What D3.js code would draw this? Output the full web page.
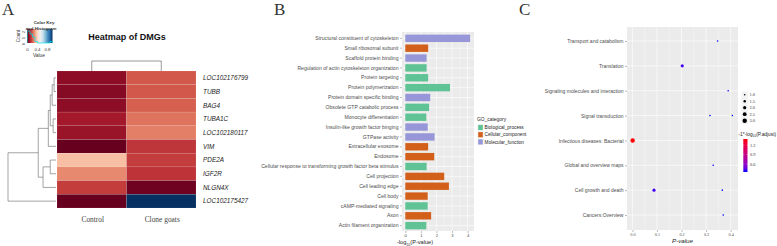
<!DOCTYPE html>
<html>
<head>
<meta charset="utf-8">
<script src="https://cdn.jsdelivr.net/npm/d3@7"></script>
<style>
  body { margin: 0; background: #fff; }
  svg { display: block; }
  .narrow { font-family: "Liberation Sans Narrow", "Liberation Sans", Arial, sans-serif; }
</style>
</head>
<body>
<div id="chart"></div>
<script>
// ---------- panel A : heatmap of DMGs ----------
const genes = ["LOC102176799", "TUBB", "BAG4", "TUBA1C", "LOC102180117", "VIM", "PDE2A", "IGF2R", "NLGN4X", "LOC102175427"];
const groups = ["Control", "Clone goats"];
const controlValues = [0.05, 0.04, 0.05, 0.085, 0.07, 0.0, 0.35, 0.26, 0.15, 0.0];
const cloneValues   = [0.19, 0.19, 0.20, 0.23, 0.245, 0.14, 0.15, 0.135, 0.01, 1.0];
// hclust style merges (negative = leaf number)
const rowMerge = [[-1, -2], [1, -3], [-4, -5], [2, 3], [4, -6], [-7, -8], [6, -9], [5, 7], [8, -10]];
const rowHeights = [0.04, 0.08, 0.06, 0.12, 0.16, 0.12, 0.27, 0.37, 1.0];
const colMerge = [[-1, -2]];
const colHeights = [1.0];
const keyTicks = [0, 0.4, 0.8];

// ---------- panel B : GO enrichment ----------
const goTerms = [
  "Structural constituent of cytoskeleton", "Small ribosomal subunit", "Scaffold protein binding",
  "Regulation of actin cytoskeleton organization", "Protein targeting", "Protein polymerization",
  "Protein domain specific binding", "Obsolete GTP catabolic process", "Monocyte differentiation",
  "Insulin-like growth factor binging", "GTPase activity", "Extracellular exosome", "Endosome",
  "Cellular response to transforming growth factor beta stimulus", "Cell projection", "Cell leading edge",
  "Cell body", "cAMP-mediated signaling", "Axon", "Actin filament organization"
];
const goValues = [4.16, 1.47, 1.37, 1.37, 1.47, 2.87, 1.6, 1.53, 1.35, 1.44, 1.88, 1.47, 1.86, 1.37, 2.5, 2.8, 1.44, 1.44, 1.66, 1.35];
const goCategory = [
  "Molecular_function", "Cellular_component", "Molecular_function", "Biological_process", "Biological_process",
  "Biological_process", "Molecular_function", "Biological_process", "Biological_process", "Molecular_function",
  "Molecular_function", "Cellular_component", "Cellular_component", "Biological_process", "Cellular_component",
  "Cellular_component", "Cellular_component", "Biological_process", "Cellular_component", "Biological_process"
];
const goCategories = ["Biological_process", "Cellular_component", "Molecular_function"];
const goTicks = [0, 1, 2, 3, 4];

// ---------- panel C : KEGG dot plot ----------
const keggTerms = [
  "Transport and catabolism", "Translation", "Signaling molecules and interaction", "Signal transduction",
  "Infectious diseases: Bacterial", "Global and overview maps", "Cell growth and death", "Cancers:Overview"
];
const keggPointTerm = [
  "Transport and catabolism", "Translation", "Signaling molecules and interaction", "Signal transduction",
  "Signal transduction", "Infectious diseases: Bacterial", "Global and overview maps", "Cell growth and death",
  "Cell growth and death", "Cancers:Overview"
];
const keggPValue = [0.347, 0.203, 0.39, 0.316, 0.407, 0.001, 0.329, 0.088, 0.366, 0.37];
const keggCount = [1, 2, 1, 1, 1, 3, 1, 2, 1, 1];
const keggLogPadj = [0.35, 0.4, 0.35, 0.35, 0.35, 1.39, 0.35, 0.4, 0.35, 0.35];
const keggTicks = [0, 0.1, 0.2, 0.3, 0.4];
const sizeBreaks = [1.0, 1.5, 2.0, 2.5, 3.0];
const colorBreaks = [1.2, 0.9, 0.6];

const W = 777, H = 246;
const svg = d3.select("#chart").append("svg")
  .attr("width", W).attr("height", H)
  .attr("viewBox", `0 0 ${W} ${H}`);
svg.append("rect").attr("width", W).attr("height", H).attr("fill", "#fff");
const defs = svg.append("defs");

// panel letters
[["A", 2], ["B", 274], ["C", 519]].forEach(([t, x]) => {
  svg.append("text").attr("x", x).attr("y", 15)
    .attr("font-family", "Liberation Serif, serif").attr("font-size", 17)
    .attr("fill", "#333").text(t);
});

/* ================= panel A ================= */
const heat = svg.append("g");
const hx = d3.scaleBand().domain(groups).range([57, 196]);
const hy = d3.scaleBand().domain(genes).range([71, 208]);
const heatColor = v => d3.interpolateRdBu(Math.min(1, v));

const cells = [];
genes.forEach((g, i) => {
  cells.push({gene: g, group: groups[0], v: controlValues[i]});
  cells.push({gene: g, group: groups[1], v: cloneValues[i]});
});
heat.selectAll("rect.cell").data(cells).join("rect")
  .attr("class", "cell")
  .attr("x", d => hx(d.group)).attr("y", d => hy(d.gene))
  .attr("width", hx.bandwidth()).attr("height", hy.bandwidth())
  .attr("fill", d => heatColor(d.v))
  .attr("stroke", "#fff").attr("stroke-opacity", 0.2).attr("stroke-width", 0.5);

heat.selectAll("text.gene").data(genes).join("text")
  .attr("class", "gene")
  .attr("x", 203).attr("y", d => hy(d) + hy.bandwidth() / 2 + 2.3)
  .attr("font-family", "Liberation Sans, Arial, sans-serif").attr("font-style", "italic")
  .attr("font-size", 6.4).attr("fill", "#222").text(d => d);

heat.selectAll("text.grp").data(groups).join("text")
  .attr("class", "grp")
  .attr("x", d => hx(d) + hx.bandwidth() / 2 + 1).attr("y", 222)
  .attr("text-anchor", "middle")
  .attr("font-family", "Liberation Serif, serif").attr("font-size", 7.4)
  .attr("fill", "#444").text(d => d);

heat.append("text").attr("x", 127).attr("y", 40).attr("text-anchor", "middle")
  .attr("font-family", "Liberation Sans, Arial, sans-serif").attr("font-weight", "bold")
  .attr("font-size", 9).attr("fill", "#111").text("Heatmap of DMGs");

// dendrogram segments from an hclust-like merge table
function treeSegments(merge, heights, leafPos) {
  const nodes = [];
  const segs = [];
  const at = i => i < 0 ? {p: leafPos(-i - 1), h: 0} : nodes[i - 1];
  merge.forEach((m, k) => {
    const a = at(m[0]), b = at(m[1]);
    const node = {p: (a.p + b.p) / 2, h: heights[k]};
    segs.push([[a.p, a.h], [a.p, node.h], [b.p, node.h], [b.p, b.h]]);
    nodes.push(node);
  });
  return segs;
}

const rowH = d3.scaleLinear().domain([0, d3.max(rowHeights)]).range([56, 8]);
const rowSegs = treeSegments(rowMerge, rowHeights, i => hy(genes[i]) + hy.bandwidth() / 2);
heat.selectAll("path.rowtree").data(rowSegs).join("path")
  .attr("class", "rowtree")
  .attr("d", d3.line().x(d => rowH(d[1])).y(d => d[0]))
  .attr("fill", "none").attr("stroke", "#666").attr("stroke-width", 0.6);

const colH = d3.scaleLinear().domain([0, d3.max(colHeights)]).range([71, 61]);
const colSegs = treeSegments(colMerge, colHeights, i => hx(groups[i]) + hx.bandwidth() / 2);
heat.selectAll("path.coltree").data(colSegs).join("path")
  .attr("class", "coltree")
  .attr("d", d3.line().x(d => d[0]).y(d => colH(d[1])))
  .attr("fill", "none").attr("stroke", "#555").attr("stroke-width", 0.6);

// colour key with histogram
const key = svg.append("g");
const kx = d3.scaleLinear().domain([0, 1]).range([27.5, 52.5]);
const grad = defs.append("linearGradient").attr("id", "rdbu");
d3.range(0, 1.01, 0.1).forEach(t => {
  grad.append("stop").attr("offset", t).attr("stop-color", heatColor(t));
});
key.append("rect").attr("x", kx(0)).attr("y", 29).attr("width", kx(1) - kx(0)).attr("height", 14)
  .attr("fill", "url(#rdbu)");
const allVals = controlValues.concat(cloneValues);
const bins = d3.bin().domain([0, 1]).thresholds(d3.range(0.1, 1, 0.1))(allVals);
const ky = d3.scaleLinear().domain([0, d3.max(bins, b => b.length)]).range([43, 31]);
let hist = `M${kx(0)},${ky(0)}`;
bins.forEach(b => { hist += `V${ky(b.length)}H${kx(b.x1)}`; });
hist += `V${ky(0)}`;
key.append("path").attr("d", hist).attr("fill", "none").attr("stroke", "#00e5ee").attr("stroke-width", 0.7);
key.append("line").attr("x1", kx(0)).attr("x2", kx(0)).attr("y1", 29).attr("y2", 43).attr("stroke", "#333").attr("stroke-width", 0.5);
key.selectAll("text.kt").data(keyTicks).join("text").attr("class", "kt")
  .attr("x", d => kx(d)).attr("y", 51).attr("text-anchor", "middle")
  .attr("font-family", "Liberation Sans, Arial, sans-serif").attr("font-size", 4.4).attr("fill", "#333")
  .text(d => d === 0 ? "0" : d);
key.append("text").attr("x", 39).attr("y", 56.5).attr("text-anchor", "middle")
  .attr("font-family", "Liberation Sans, Arial, sans-serif").attr("font-size", 4.8).attr("fill", "#333").text("Value");
key.append("text").attr("x", 44).attr("y", 24).attr("text-anchor", "middle")
  .attr("font-family", "Liberation Sans, Arial, sans-serif").attr("font-weight", "bold")
  .attr("font-size", 4.4).attr("fill", "#333").text("Color Key");
key.append("text").attr("x", 41).attr("y", 30).attr("text-anchor", "middle")
  .attr("font-family", "Liberation Sans, Arial, sans-serif").attr("font-weight", "bold")
  .attr("font-size", 4.4).attr("fill", "#333").text("and Histogram");
key.append("text").attr("transform", "translate(20,36) rotate(-90)").attr("text-anchor", "middle")
  .attr("font-family", "Liberation Sans, Arial, sans-serif").attr("font-size", 4.6).attr("fill", "#333").text("Count");
key.selectAll("text.ct").data([0, 5, 10]).join("text").attr("class", "ct")
  .attr("transform", d => `translate(25,${ky(d * ky.domain()[1] / 10) + 1}) rotate(-90)`)
  .attr("text-anchor", "middle").attr("font-family", "Liberation Sans, Arial, sans-serif")
  .attr("font-size", 3.4).attr("fill", "#333").text((d, i) => i);

/* ================= panel B ================= */
const goColor = d3.scaleOrdinal().domain(goCategories).range(["#5fc395", "#d3601a", "#9696d8"]);
const bx = d3.scaleLinear().domain([-0.21, 4.41]).range([402, 474]);
const by = d3.scaleBand().domain(goTerms).range([33.4, 230.6]).paddingInner(0.25).paddingOuter(0.125);
const B = svg.append("g").attr("class", "narrow");
B.append("rect").attr("x", 402).attr("y", 32).attr("width", 72).attr("height", 199).attr("fill", "#ebebeb");
B.selectAll("line.minor").data(d3.range(0.5, 4.5, 1)).join("line").attr("class", "minor")
  .attr("x1", d => bx(d)).attr("x2", d => bx(d)).attr("y1", 32).attr("y2", 231)
  .attr("stroke", "#fff").attr("stroke-width", 0.3);
B.selectAll("line.vmaj").data(goTicks).join("line").attr("class", "vmaj")
  .attr("x1", d => bx(d)).attr("x2", d => bx(d)).attr("y1", 32).attr("y2", 231)
  .attr("stroke", "#fff").attr("stroke-width", 0.6);
B.selectAll("line.hmaj").data(goTerms).join("line").attr("class", "hmaj")
  .attr("x1", 402).attr("x2", 474).attr("y1", d => by(d) + by.bandwidth() / 2).attr("y2", d => by(d) + by.bandwidth() / 2)
  .attr("stroke", "#fff").attr("stroke-width", 0.6);
B.selectAll("rect.bar").data(goTerms).join("rect").attr("class", "bar")
  .attr("x", bx(0)).attr("y", d => by(d))
  .attr("width", (d, i) => bx(goValues[i]) - bx(0)).attr("height", by.bandwidth())
  .attr("fill", (d, i) => goColor(goCategory[i]));

const byAxis = B.append("g").attr("transform", "translate(402,0)")
  .call(d3.axisLeft(by).tickSize(2).tickPadding(1.5));
byAxis.select(".domain").remove();
byAxis.selectAll("line").attr("stroke", "#555").attr("stroke-width", 0.4);
byAxis.selectAll("text").attr("font-size", 5.1).attr("fill", "#4d4d4d").attr("font-family", null);

const bxAxis = B.append("g").attr("transform", "translate(0,231)")
  .call(d3.axisBottom(bx).tickValues(goTicks).tickSize(2).tickPadding(1).tickFormat(d3.format("d")));
bxAxis.select(".domain").remove();
bxAxis.selectAll("line").attr("stroke", "#555").attr("stroke-width", 0.4);
bxAxis.selectAll("text").attr("font-size", 4.2).attr("fill", "#4d4d4d").attr("font-family", null);

const bTitle = B.append("text").attr("x", 415).attr("y", 244.3).attr("text-anchor", "middle")
  .attr("font-size", 5.6).attr("fill", "#222");
bTitle.append("tspan").text("-log");
bTitle.append("tspan").attr("font-size", 3.6).attr("dy", 1.4).text("10");
bTitle.append("tspan").attr("dy", -1.4).text("(P-value)");

const bLeg = B.append("g").attr("transform", "translate(477,0)");
bLeg.append("text").attr("x", 0).attr("y", 121).attr("font-size", 4.9).attr("fill", "#222").text("GO_category");
goCategories.forEach((c, i) => {
  const y = 124.3 + i * 7.2;
  bLeg.append("rect").attr("x", 0.5).attr("y", y).attr("width", 6).attr("height", 6.4).attr("fill", "#f2f2f2");
  bLeg.append("rect").attr("x", 1.2).attr("y", y + 0.6).attr("width", 4.6).attr("height", 5.2).attr("fill", goColor(c));
  bLeg.append("text").attr("x", 7.6).attr("y", y + 4.9).attr("font-size", 4.7).attr("fill", "#222").text(c);
});

/* ================= panel C ================= */
const cx = d3.scaleLinear().domain([-0.022, 0.430]).range([627, 738]);
const cy = d3.scalePoint().domain(keggTerms).range([41, 215]);
const cSize = d3.scaleSqrt().domain([1, 3]).range([0.8, 2.2]);
const cColor = d3.scaleLinear().domain(d3.extent(keggLogPadj)).range(["#0000ff", "#ff0000"])
  .interpolate(d3.interpolateLab);
const C = svg.append("g").attr("class", "narrow");
C.append("rect").attr("x", 627).attr("y", 27).attr("width", 111).attr("height", 203).attr("fill", "#ebebeb");
C.selectAll("line.minor").data(d3.range(0.05, 0.45, 0.1)).join("line").attr("class", "minor")
  .attr("x1", d => cx(d)).attr("x2", d => cx(d)).attr("y1", 27).attr("y2", 230)
  .attr("stroke", "#fff").attr("stroke-width", 0.3);
C.selectAll("line.vmaj").data(keggTicks).join("line").attr("class", "vmaj")
  .attr("x1", d => cx(d)).attr("x2", d => cx(d)).attr("y1", 27).attr("y2", 230)
  .attr("stroke", "#fff").attr("stroke-width", 0.6);
C.selectAll("line.hmaj").data(keggTerms).join("line").attr("class", "hmaj")
  .attr("x1", 627).attr("x2", 738).attr("y1", d => cy(d)).attr("y2", d => cy(d))
  .attr("stroke", "#fff").attr("stroke-width", 0.6);

C.selectAll("circle.pt").data(keggPointTerm).join("circle").attr("class", "pt")
  .attr("cx", (d, i) => cx(keggPValue[i])).attr("cy", d => cy(d))
  .attr("r", (d, i) => cSize(keggCount[i]))
  .attr("fill", (d, i) => cColor(keggLogPadj[i]));

const cyAxis = C.append("g").attr("transform", "translate(627,0)")
  .call(d3.axisLeft(cy).tickSize(2).tickPadding(1.5));
cyAxis.select(".domain").remove();
cyAxis.selectAll("line").attr("stroke", "#555").attr("stroke-width", 0.4);
cyAxis.selectAll("text").attr("font-size", 5.0).attr("fill", "#4d4d4d").attr("font-family", null);

const cxAxis = C.append("g").attr("transform", "translate(0,230)")
  .call(d3.axisBottom(cx).tickValues(keggTicks).tickSize(2).tickPadding(1.5).tickFormat(d3.format(".1f")));
cxAxis.select(".domain").remove();
cxAxis.selectAll("line").attr("stroke", "#555").attr("stroke-width", 0.4);
cxAxis.selectAll("text").attr("font-size", 4.2).attr("fill", "#4d4d4d")
  .attr("font-family", "Liberation Serif, serif");

C.append("text").attr("x", 682.5).attr("y", 243).attr("text-anchor", "middle")
  .attr("font-size", 6.2).attr("fill", "#222").attr("font-style", "italic").text("P-value");

// size legend
const sLeg = C.append("g");
sizeBreaks.forEach((s, i) => {
  const y = 94.7 + i * 6.5;
  sLeg.append("rect").attr("x", 741.5).attr("y", y - 3.2).attr("width", 6.4).attr("height", 6.4).attr("fill", "#f2f2f2");
  sLeg.append("circle").attr("cx", 744.7).attr("cy", y).attr("r", cSize(s)).attr("fill", "#000");
  sLeg.append("text").attr("x", 749.5).attr("y", y + 1.6).attr("font-size", 4.4)
    .attr("font-family", "Liberation Serif, serif").attr("fill", "#333").text(d3.format(".1f")(s));
});

// colour legend
const cLeg = C.append("g");
const cTitle = cLeg.append("text").attr("x", 738.5).attr("y", 135.5).attr("font-size", 4.8).attr("fill", "#222");
cTitle.append("tspan").text("-1*-log");
cTitle.append("tspan").attr("font-size", 3.2).attr("dy", 1.3).text("10");
cTitle.append("tspan").attr("dy", -1.3).text("(P.adjust)");
const ext = d3.extent(keggLogPadj);
const cg = defs.append("linearGradient").attr("id", "bluered")
  .attr("x1", 0).attr("x2", 0).attr("y1", 1).attr("y2", 0);
d3.range(0, 1.01, 0.1).forEach(t => {
  cg.append("stop").attr("offset", t).attr("stop-color", cColor(ext[0] + t * (ext[1] - ext[0])));
});
const legY = d3.scaleLinear().domain(ext).range([172, 139]);
cLeg.append("rect").attr("x", 743.3).attr("y", 139).attr("width", 4.2).attr("height", 33).attr("fill", "url(#bluered)");
colorBreaks.forEach(b => {
  cLeg.append("text").attr("x", 750).attr("y", legY(b) + 1.5).attr("font-size", 4.4)
    .attr("font-family", "Liberation Serif, serif").attr("fill", "#333").text(d3.format(".1f")(b));
  cLeg.append("line").attr("x1", 743.3).attr("x2", 744.3).attr("y1", legY(b)).attr("y2", legY(b)).attr("stroke", "#fff").attr("stroke-width", 0.4);
  cLeg.append("line").attr("x1", 746.5).attr("x2", 747.5).attr("y1", legY(b)).attr("y2", legY(b)).attr("stroke", "#fff").attr("stroke-width", 0.4);
});
</script>
</body>
</html>
